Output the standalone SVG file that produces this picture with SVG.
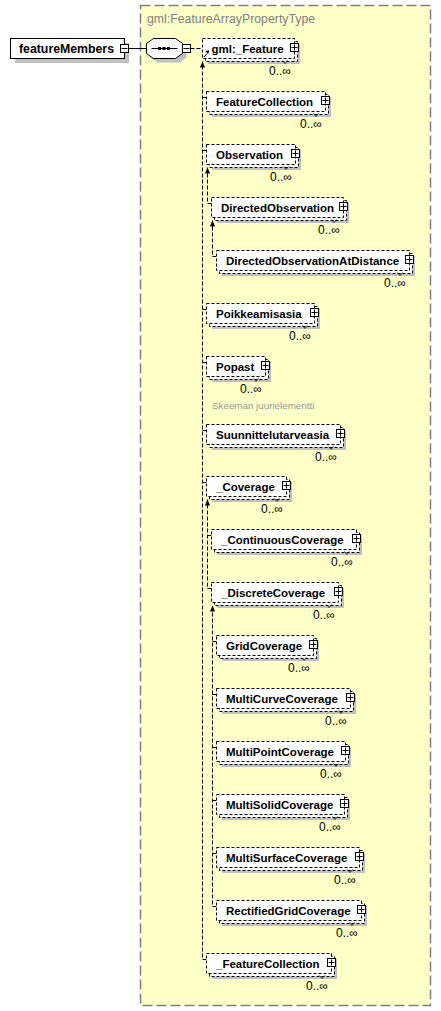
<svg xmlns="http://www.w3.org/2000/svg" width="441" height="1011" viewBox="0 0 441 1011">
<style>
.bg{fill:#ffffc8;stroke:#808080;stroke-width:1.5;stroke-dasharray:10,4}
.ttl{font-family:"Liberation Sans",Arial,sans-serif;font-size:12.3px;fill:#808080}
.shd{fill:#c0c0c0}
.box{fill:#fff;stroke:#000;stroke-width:1;stroke-dasharray:3,2}
.sol{fill:#fff;stroke:#000;stroke-width:1}
.btn{fill:#fff;stroke:#000;stroke-width:1}
.pl{fill:none;stroke:#000;stroke-width:1}
.vn{fill:none;stroke:#000;stroke-width:0.8}
.lbl{font-family:"Liberation Sans",Arial,sans-serif;font-weight:bold;font-size:11.5px;fill:#000}
.mul{font-family:"Liberation Sans",Arial,sans-serif;font-size:12px;fill:#000}
.ann{font-family:"Liberation Sans",Arial,sans-serif;font-size:9.8px;fill:#999}
.conn{fill:none;stroke:#000;stroke-width:1;stroke-dasharray:4,2}
.line{fill:none;stroke:#000;stroke-width:1}
</style>
<defs>
<marker id="ah" viewBox="-7 -4 8 8" refX="0" refY="0" markerWidth="8" markerHeight="8" markerUnits="userSpaceOnUse" orient="auto"><path d="M0,0 L-6,-2.6 L-6,2.6 Z" fill="#000"/></marker>
</defs>

<g id="container">
<rect class="bg" x="140.5" y="5.5" width="290" height="1000"/>
<text class="ttl" x="147" y="23">gml:FeatureArrayPropertyType</text>
</g>

<g id="connectors">
<path class="line" d="M128.5,48.5 H146.5"/>
<path class="conn" d="M190.5,48.5 H202.5"/>
<path class="conn" d="M206.5,959.5 H202.5 V61.5" marker-end="url(#ah)"/>
<path class="conn" d="M202.5,97.5 H206.5 M202.5,150.5 H206.5 M202.5,309.5 H206.5 M202.5,362.5 H206.5 M202.5,430.5 H206.5 M202.5,482.5 H206.5"/>
<path class="conn" d="M211.5,203.5 H207.5 V167.5" marker-end="url(#ah)"/>
<path class="conn" d="M216.5,256.5 H212.5 V220.5" marker-end="url(#ah)"/>
<path class="conn" d="M211.5,588.5 H207.5 V499.5" marker-end="url(#ah)"/>
<path class="conn" d="M207.5,535.5 H211.5"/>
<path class="conn" d="M216.5,906.5 H212.5 V605.5" marker-end="url(#ah)"/>
<path class="conn" d="M212.5,641.5 H216.5 M212.5,694.5 H216.5 M212.5,747.5 H216.5 M212.5,800.5 H216.5 M212.5,853.5 H216.5"/>
</g>

<g id="featureMembers">
<rect class="shd" x="15" y="43" width="114" height="20"/>
<rect class="sol" x="10.5" y="38.5" width="114" height="20"/>
<text class="lbl" x="19" y="52.5" style="font-size:12.3px">featureMembers</text>
<rect class="btn" x="120.5" y="44.5" width="8" height="8"/>
<path class="pl" d="M121.5,48.5 H127.5"/>
</g>

<g id="sequence">
<path class="shd" transform="translate(4,4)" d="M153.5,38.5 H175.5 L182.5,43.5 V53.5 L175.5,58.5 H153.5 L146.5,53.5 V43.5 Z"/>
<path class="sol" d="M153.5,38.5 H175.5 L182.5,43.5 V53.5 L175.5,58.5 H153.5 L146.5,53.5 V43.5 Z"/>
<path class="pl" d="M151.5,48.5 H177.5"/>
<rect x="158" y="47" width="3" height="3" fill="#000"/>
<rect x="162.5" y="47" width="3" height="3" fill="#000"/>
<rect x="167" y="47" width="3" height="3" fill="#000"/>
<rect class="btn" x="182.5" y="44.5" width="8" height="8"/>
<path class="pl" d="M183.5,48.5 H189.5"/>
</g>

<g id="gml_Feature" transform="translate(202.5,38.5)">
<rect class="shd" x="5.5" y="5.5" width="92" height="20"/>
<rect class="box" x="3" y="3" width="92" height="20"/>
<rect class="box" x="0" y="0" width="92" height="20"/>
<text class="lbl" x="9" y="14">gml:_Feature</text>
<path class="pl" d="M1.5,18.5 L4.5,15"/>
<path d="M6.8,11.8 L3,12.8 L5.8,15.6 Z" fill="#000"/>
<rect class="btn" x="88" y="5" width="8" height="8"/>
<path class="pl" d="M89,9 H95 M92,6 V12"/>
<path class="vn" d="M80,22 L82.5,25 L85,22"/>
<text class="mul" x="66.5" y="36.5">0..∞</text>
</g>

<g id="FeatureCollection" transform="translate(206.5,91.5)">
<rect class="shd" x="5.5" y="5.5" width="119" height="20"/>
<rect class="box" x="3" y="3" width="119" height="20"/>
<rect class="box" x="0" y="0" width="119" height="20"/>
<text class="lbl" x="9.5" y="14">FeatureCollection</text>
<rect class="btn" x="115" y="5" width="8" height="8"/>
<path class="pl" d="M116,9 H122 M119,6 V12"/>
<path class="vn" d="M107,22 L109.5,25 L112,22"/>
<text class="mul" x="93.5" y="36.5">0..∞</text>
</g>

<g id="Observation" transform="translate(206.5,144.5)">
<rect class="shd" x="5.5" y="5.5" width="89" height="20"/>
<rect class="box" x="3" y="3" width="89" height="20"/>
<rect class="box" x="0" y="0" width="89" height="20"/>
<text class="lbl" x="9.5" y="14">Observation</text>
<rect class="btn" x="85" y="5" width="8" height="8"/>
<path class="pl" d="M86,9 H92 M89,6 V12"/>
<path class="vn" d="M77,22 L79.5,25 L82,22"/>
<text class="mul" x="63.5" y="36.5">0..∞</text>
</g>

<g id="DirectedObservation" transform="translate(211.5,197.5)">
<rect class="shd" x="5.5" y="5.5" width="132" height="20"/>
<rect class="box" x="3" y="3" width="132" height="20"/>
<rect class="box" x="0" y="0" width="132" height="20"/>
<text class="lbl" x="9.5" y="14">DirectedObservation</text>
<rect class="btn" x="128" y="5" width="8" height="8"/>
<path class="pl" d="M129,9 H135 M132,6 V12"/>
<path class="vn" d="M120,22 L122.5,25 L125,22"/>
<text class="mul" x="106.5" y="36.5">0..∞</text>
</g>

<g id="DirectedObservationAtDistance" transform="translate(216.5,250.5)">
<rect class="shd" x="5.5" y="5.5" width="193" height="20"/>
<rect class="box" x="3" y="3" width="193" height="20"/>
<rect class="box" x="0" y="0" width="193" height="20"/>
<text class="lbl" x="9.5" y="14">DirectedObservationAtDistance</text>
<rect class="btn" x="189" y="5" width="8" height="8"/>
<path class="pl" d="M190,9 H196 M193,6 V12"/>
<path class="vn" d="M181,22 L183.5,25 L186,22"/>
<text class="mul" x="167.5" y="36.5">0..∞</text>
</g>

<g id="Poikkeamisasia" transform="translate(206.5,303.5)">
<rect class="shd" x="5.5" y="5.5" width="108" height="20"/>
<rect class="box" x="3" y="3" width="108" height="20"/>
<rect class="box" x="0" y="0" width="108" height="20"/>
<text class="lbl" x="9.5" y="14">Poikkeamisasia</text>
<rect class="btn" x="104" y="5" width="8" height="8"/>
<path class="pl" d="M105,9 H111 M108,6 V12"/>
<path class="vn" d="M96,22 L98.5,25 L101,22"/>
<text class="mul" x="82.5" y="36.5">0..∞</text>
</g>

<g id="Popast" transform="translate(206.5,356.5)">
<rect class="shd" x="5.5" y="5.5" width="59" height="20"/>
<rect class="box" x="3" y="3" width="59" height="20"/>
<rect class="box" x="0" y="0" width="59" height="20"/>
<text class="lbl" x="9.5" y="14">Popast</text>
<rect class="btn" x="55" y="5" width="8" height="8"/>
<path class="pl" d="M56,9 H62 M59,6 V12"/>
<path class="vn" d="M47,22 L49.5,25 L52,22"/>
<text class="mul" x="33.5" y="36.5">0..∞</text>
<text class="ann" x="5.5" y="52.5">Skeeman juurielementti</text>
</g>

<g id="Suunnittelutarveasia" transform="translate(206.5,424.5)">
<rect class="shd" x="5.5" y="5.5" width="134" height="20"/>
<rect class="box" x="3" y="3" width="134" height="20"/>
<rect class="box" x="0" y="0" width="134" height="20"/>
<text class="lbl" x="9.5" y="14">Suunnittelutarveasia</text>
<rect class="btn" x="130" y="5" width="8" height="8"/>
<path class="pl" d="M131,9 H137 M134,6 V12"/>
<path class="vn" d="M122,22 L124.5,25 L127,22"/>
<text class="mul" x="108.5" y="36.5">0..∞</text>
</g>

<g id="_Coverage" transform="translate(206.5,476.5)">
<rect class="shd" x="5.5" y="5.5" width="80" height="20"/>
<rect class="box" x="3" y="3" width="80" height="20"/>
<rect class="box" x="0" y="0" width="80" height="20"/>
<text class="lbl" x="9.5" y="14">_Coverage</text>
<rect class="btn" x="76" y="5" width="8" height="8"/>
<path class="pl" d="M77,9 H83 M80,6 V12"/>
<path class="vn" d="M68,22 L70.5,25 L73,22"/>
<text class="mul" x="54.5" y="36.5">0..∞</text>
</g>

<g id="_ContinuousCoverage" transform="translate(211.5,529.5)">
<rect class="shd" x="5.5" y="5.5" width="145" height="20"/>
<rect class="box" x="3" y="3" width="145" height="20"/>
<rect class="box" x="0" y="0" width="145" height="20"/>
<text class="lbl" x="9.5" y="14">_ContinuousCoverage</text>
<rect class="btn" x="141" y="5" width="8" height="8"/>
<path class="pl" d="M142,9 H148 M145,6 V12"/>
<path class="vn" d="M133,22 L135.5,25 L138,22"/>
<text class="mul" x="119.5" y="36.5">0..∞</text>
</g>

<g id="_DiscreteCoverage" transform="translate(211.5,582.5)">
<rect class="shd" x="5.5" y="5.5" width="127" height="20"/>
<rect class="box" x="3" y="3" width="127" height="20"/>
<rect class="box" x="0" y="0" width="127" height="20"/>
<text class="lbl" x="9.5" y="14">_DiscreteCoverage</text>
<rect class="btn" x="123" y="5" width="8" height="8"/>
<path class="pl" d="M124,9 H130 M127,6 V12"/>
<path class="vn" d="M115,22 L117.5,25 L120,22"/>
<text class="mul" x="101.5" y="36.5">0..∞</text>
</g>

<g id="GridCoverage" transform="translate(216.5,635.5)">
<rect class="shd" x="5.5" y="5.5" width="97" height="20"/>
<rect class="box" x="3" y="3" width="97" height="20"/>
<rect class="box" x="0" y="0" width="97" height="20"/>
<text class="lbl" x="9.5" y="14">GridCoverage</text>
<rect class="btn" x="93" y="5" width="8" height="8"/>
<path class="pl" d="M94,9 H100 M97,6 V12"/>
<path class="vn" d="M85,22 L87.5,25 L90,22"/>
<text class="mul" x="71.5" y="36.5">0..∞</text>
</g>

<g id="MultiCurveCoverage" transform="translate(216.5,688.5)">
<rect class="shd" x="5.5" y="5.5" width="134" height="20"/>
<rect class="box" x="3" y="3" width="134" height="20"/>
<rect class="box" x="0" y="0" width="134" height="20"/>
<text class="lbl" x="9.5" y="14">MultiCurveCoverage</text>
<rect class="btn" x="130" y="5" width="8" height="8"/>
<path class="pl" d="M131,9 H137 M134,6 V12"/>
<path class="vn" d="M122,22 L124.5,25 L127,22"/>
<text class="mul" x="108.5" y="36.5">0..∞</text>
</g>

<g id="MultiPointCoverage" transform="translate(216.5,741.5)">
<rect class="shd" x="5.5" y="5.5" width="129" height="20"/>
<rect class="box" x="3" y="3" width="129" height="20"/>
<rect class="box" x="0" y="0" width="129" height="20"/>
<text class="lbl" x="9.5" y="14">MultiPointCoverage</text>
<rect class="btn" x="125" y="5" width="8" height="8"/>
<path class="pl" d="M126,9 H132 M129,6 V12"/>
<path class="vn" d="M117,22 L119.5,25 L122,22"/>
<text class="mul" x="103.5" y="36.5">0..∞</text>
</g>

<g id="MultiSolidCoverage" transform="translate(216.5,794.5)">
<rect class="shd" x="5.5" y="5.5" width="128" height="20"/>
<rect class="box" x="3" y="3" width="128" height="20"/>
<rect class="box" x="0" y="0" width="128" height="20"/>
<text class="lbl" x="9.5" y="14">MultiSolidCoverage</text>
<rect class="btn" x="124" y="5" width="8" height="8"/>
<path class="pl" d="M125,9 H131 M128,6 V12"/>
<path class="vn" d="M116,22 L118.5,25 L121,22"/>
<text class="mul" x="102.5" y="36.5">0..∞</text>
</g>

<g id="MultiSurfaceCoverage" transform="translate(216.5,847.5)">
<rect class="shd" x="5.5" y="5.5" width="143" height="20"/>
<rect class="box" x="3" y="3" width="143" height="20"/>
<rect class="box" x="0" y="0" width="143" height="20"/>
<text class="lbl" x="9.5" y="14">MultiSurfaceCoverage</text>
<rect class="btn" x="139" y="5" width="8" height="8"/>
<path class="pl" d="M140,9 H146 M143,6 V12"/>
<path class="vn" d="M131,22 L133.5,25 L136,22"/>
<text class="mul" x="117.5" y="36.5">0..∞</text>
</g>

<g id="RectifiedGridCoverage" transform="translate(216.5,900.5)">
<rect class="shd" x="5.5" y="5.5" width="145" height="20"/>
<rect class="box" x="3" y="3" width="145" height="20"/>
<rect class="box" x="0" y="0" width="145" height="20"/>
<text class="lbl" x="9.5" y="14">RectifiedGridCoverage</text>
<rect class="btn" x="141" y="5" width="8" height="8"/>
<path class="pl" d="M142,9 H148 M145,6 V12"/>
<path class="vn" d="M133,22 L135.5,25 L138,22"/>
<text class="mul" x="119.5" y="36.5">0..∞</text>
</g>

<g id="_FeatureCollection" transform="translate(206.5,953.5)">
<rect class="shd" x="5.5" y="5.5" width="125" height="20"/>
<rect class="box" x="3" y="3" width="125" height="20"/>
<rect class="box" x="0" y="0" width="125" height="20"/>
<text class="lbl" x="9.5" y="14">_FeatureCollection</text>
<rect class="btn" x="121" y="5" width="8" height="8"/>
<path class="pl" d="M122,9 H128 M125,6 V12"/>
<path class="vn" d="M113,22 L115.5,25 L118,22"/>
<text class="mul" x="99.5" y="36.5">0..∞</text>
</g>
</svg>
